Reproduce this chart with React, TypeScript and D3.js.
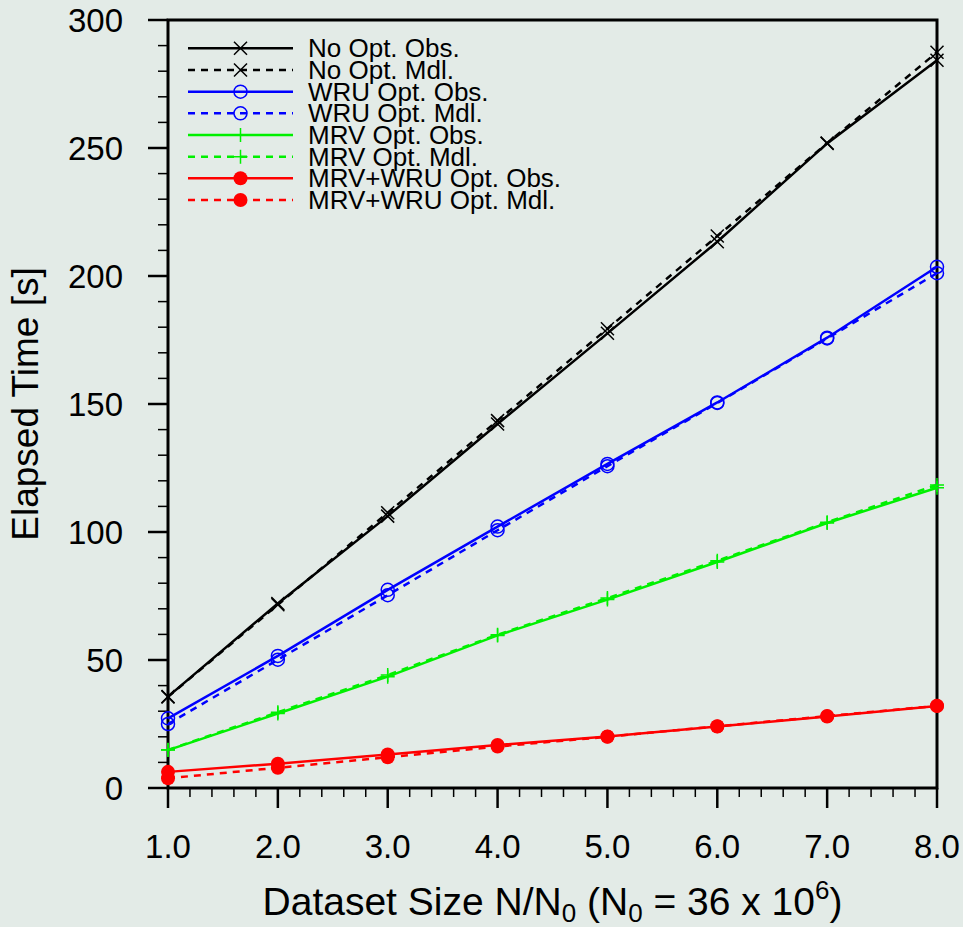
import React, { useEffect, useRef } from 'react'
import * as d3 from 'd3'

// dataset size N/N0
const sizes = [1, 2, 3, 4, 5, 6, 7, 8]

// elapsed time [s]
const noOptObs = [35.7, 72.1, 106.2, 142.2, 177.6, 213.4, 251.8, 284.3]
const noOptMdl = [35.6, 71.6, 107.5, 143.5, 179.4, 215.6, 251.9, 287.4]
const wruObs = [27.2, 51.6, 77.4, 102.1, 126.6, 150.6, 175.9, 203.6]
const wruMdl = [25.0, 50.1, 75.3, 100.7, 125.7, 150.4, 175.6, 201.1]
const mrvObs = [14.8, 29.1, 43.5, 59.6, 73.6, 88.3, 103.5, 117.3]
const mrvMdl = [14.9, 29.6, 44.1, 59.9, 74.2, 88.8, 103.8, 118.4]
const bothObs = [6.3, 9.5, 13.1, 16.8, 20.1, 24.0, 27.9, 32.0]
const bothMdl = [3.8, 7.9, 12.0, 16.2, 20.0, 24.1, 28.1, 32.1]

const xTickLabels = ['1.0', '2.0', '3.0', '4.0', '5.0', '6.0', '7.0', '8.0']
const yTicks = [0, 50, 100, 150, 200, 250, 300]

const series = [
  { name: 'No Opt. Obs.', values: noOptObs, color: '#000000', dashed: false, marker: 'x' },
  { name: 'No Opt. Mdl.', values: noOptMdl, color: '#000000', dashed: true, marker: 'x' },
  { name: 'WRU Opt. Obs.', values: wruObs, color: '#0000ff', dashed: false, marker: 'o' },
  { name: 'WRU Opt. Mdl.', values: wruMdl, color: '#0000ff', dashed: true, marker: 'o' },
  { name: 'MRV Opt. Obs.', values: mrvObs, color: '#00f000', dashed: false, marker: '+' },
  { name: 'MRV Opt. Mdl.', values: mrvMdl, color: '#00f000', dashed: true, marker: '+' },
  { name: 'MRV+WRU Opt. Obs.', values: bothObs, color: '#ff0000', dashed: false, marker: 'dot' },
  { name: 'MRV+WRU Opt. Mdl.', values: bothMdl, color: '#ff0000', dashed: true, marker: 'dot' },
]

const W = 963
const H = 927
const font = '"Liberation Sans", Arial, Helvetica, sans-serif'

function drawMarker(g, type, x, y, color) {
  if (type === 'x') {
    const s = 6.5
    g.append('path')
      .attr('d', `M${x - s},${y - s}L${x + s},${y + s}M${x - s},${y + s}L${x + s},${y - s}`)
      .attr('stroke', color).attr('stroke-width', 1.5).attr('fill', 'none')
  } else if (type === '+') {
    const s = 7
    g.append('path')
      .attr('d', `M${x - s},${y}L${x + s},${y}M${x},${y - s}L${x},${y + s}`)
      .attr('stroke', color).attr('stroke-width', 1.5).attr('fill', 'none')
  } else if (type === 'o') {
    g.append('circle').attr('cx', x).attr('cy', y).attr('r', 6.5)
      .attr('stroke', color).attr('stroke-width', 1.5).attr('fill', 'none')
  } else {
    g.append('circle').attr('cx', x).attr('cy', y).attr('r', 7).attr('fill', color)
  }
}

const App = () => {
  const ref = useRef(null)

  useEffect(() => {
    const svg = d3.select(ref.current)
    svg.selectAll('*').remove()

    const left = 168, right = 937, top = 20, bottom = 788

    const x = d3.scaleLinear().domain([1, 8]).range([left, right])
    const y = d3.scaleLinear().domain([0, 300]).range([bottom, top])

    svg.append('rect').attr('width', W).attr('height', H).attr('fill', '#e3ebe7')

    // minor + major ticks
    const ticks = svg.append('g').attr('stroke', '#000')
    d3.range(1, 8.001, 0.2).forEach(v => {
      const major = Math.abs(v - Math.round(v)) < 1e-6
      ticks.append('line')
        .attr('x1', x(v)).attr('x2', x(v))
        .attr('y1', bottom).attr('y2', bottom + (major ? 20 : 9))
        .attr('stroke-width', major ? 2.5 : 1.5)
    })
    d3.range(0, 300.001, 10).forEach(v => {
      const major = v % 50 === 0
      ticks.append('line')
        .attr('y1', y(v)).attr('y2', y(v))
        .attr('x1', left).attr('x2', left - (major ? 20 : 10))
        .attr('stroke-width', major ? 2.5 : 1.5)
    })

    // frame
    svg.append('rect')
      .attr('x', left).attr('y', top)
      .attr('width', right - left).attr('height', bottom - top)
      .attr('fill', 'none').attr('stroke', '#000').attr('stroke-width', 3)

    // tick labels
    svg.append('g').selectAll('text').data(sizes).join('text')
      .attr('x', d => x(d)).attr('y', 858)
      .attr('text-anchor', 'middle')
      .attr('font-family', font).attr('font-size', 33)
      .text((d, i) => xTickLabels[i])

    svg.append('g').selectAll('text').data(yTicks).join('text')
      .attr('x', 123).attr('y', d => y(d) + 11.5)
      .attr('text-anchor', 'end')
      .attr('font-family', font).attr('font-size', 33)
      .text(d => d)

    // axis titles
    svg.append('text')
      .attr('transform', `translate(38, ${(top + bottom) / 2}) rotate(-90)`)
      .attr('text-anchor', 'middle')
      .attr('font-family', font).attr('font-size', 37)
      .text('Elapsed Time [s]')

    const xt = svg.append('text')
      .attr('x', (left + right) / 2).attr('y', 915)
      .attr('text-anchor', 'middle')
      .attr('font-family', font).attr('font-size', 39)
    xt.append('tspan').text('Dataset Size N/N')
    xt.append('tspan').attr('dy', 7).attr('font-size', 26).text('0')
    xt.append('tspan').attr('dy', -7).text(' (N')
    xt.append('tspan').attr('dy', 7).attr('font-size', 26).text('0')
    xt.append('tspan').attr('dy', -7).text(' = 36 x 10')
    xt.append('tspan').attr('dy', -16).attr('font-size', 26).text('6')
    xt.append('tspan').attr('dy', 16).text(')')

    // data
    const line = d3.line().x((d, i) => x(sizes[i])).y(d => y(d))
    const plot = svg.append('g')
    series.forEach(s => {
      plot.append('path')
        .attr('d', line(s.values))
        .attr('fill', 'none')
        .attr('stroke', s.color)
        .attr('stroke-width', 2.5)
        .attr('stroke-dasharray', s.dashed ? '7,6' : null)
      s.values.forEach((v, i) => drawMarker(plot, s.marker, x(sizes[i]), y(v), s.color))
    })

    // legend
    const leg = svg.append('g')
    series.forEach((s, i) => {
      const ly = 48.3 + i * 21.67
      leg.append('line')
        .attr('x1', 188).attr('x2', 293).attr('y1', ly).attr('y2', ly)
        .attr('stroke', s.color).attr('stroke-width', 2.5)
        .attr('stroke-dasharray', s.dashed ? '7,6' : null)
      drawMarker(leg, s.marker, 240.5, ly, s.color)
      leg.append('text')
        .attr('x', 308).attr('y', ly + 9)
        .attr('font-family', font).attr('font-size', 26)
        .text(s.name)
    })
  }, [])

  return (
    <svg ref={ref} width={W} height={H}
      style={{ position: 'absolute', left: 0, top: 0, display: 'block' }} />
  )
}

export default App
